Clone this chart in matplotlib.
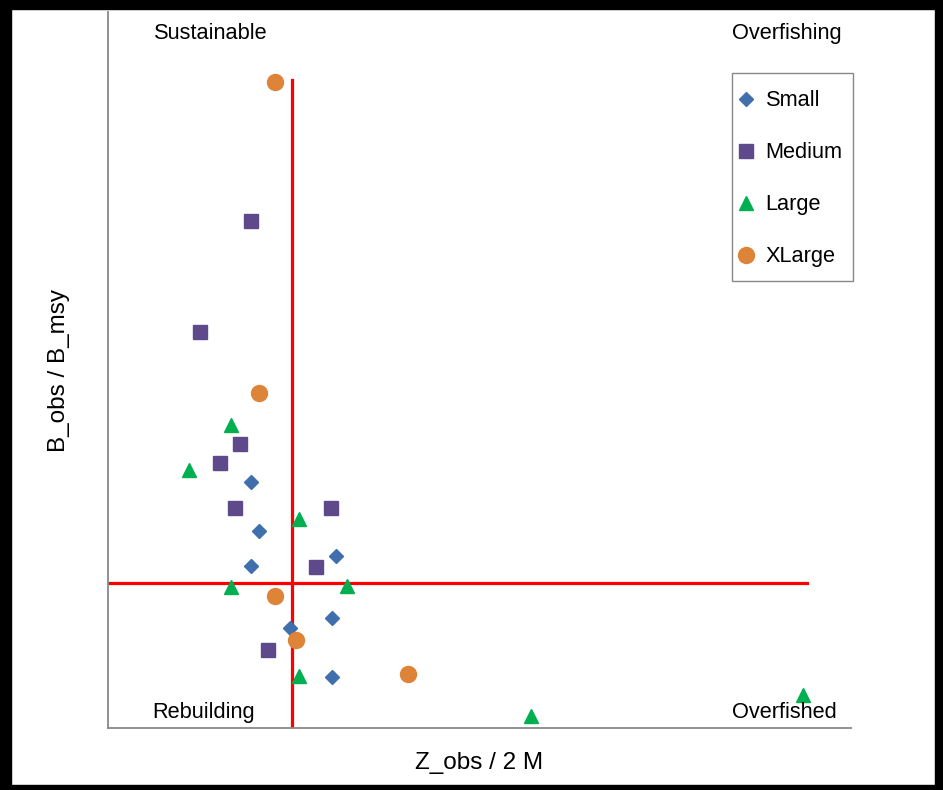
import matplotlib
matplotlib.use('Agg')
import matplotlib.pyplot as plt
from matplotlib.patches import Rectangle

plt.rcParams['font.family'] = ['Liberation Sans', 'DejaVu Sans']

# Z_obs / 2M and B_obs / B_msy for each size group
small_x = [0.78, 0.82, 0.78, 1.24, 1.22, 0.99, 1.22]
small_y = [1.70, 1.36, 1.12, 1.19, 0.76, 0.69, 0.35]

medium_x = [0.78, 0.50, 0.72, 0.61, 0.69, 1.21, 1.13, 0.87]
medium_y = [3.50, 2.73, 1.96, 1.83, 1.52, 1.52, 1.11, 0.54]

large_x = [0.67, 0.44, 1.04, 0.67, 1.30, 1.04, 2.30, 3.78]
large_y = [2.09, 1.78, 1.44, 0.97, 0.98, 0.36, 0.08, 0.23]

xlarge_x = [0.91, 0.82, 0.91, 1.02, 1.63]
xlarge_y = [4.46, 2.31, 0.91, 0.61, 0.37]

# reference lines
ref_x = 1.0
ref_y = 1.0
ref_x_top = 4.47
ref_y_right = 3.80

fig = plt.figure(figsize=(9.43, 7.90), dpi=100)
ax = fig.add_axes([108 / 943, 62 / 790, 743 / 943, 716 / 790])

ax.plot([ref_x, ref_x], [0, ref_x_top], color='red', lw=2.3, zorder=1)
ax.plot([0, ref_y_right], [ref_y, ref_y], color='red', lw=2.3, zorder=1)

ax.plot(small_x, small_y, 'D', color='#3F6FAD', ms=7, ls='none', label='Small', zorder=3)
ax.plot(medium_x, medium_y, 's', color='#5E4A8A', ms=10, ls='none', label='Medium', zorder=3)
ax.plot(large_x, large_y, '^', color='#00B050', ms=10.5, ls='none', label='Large', zorder=3)
ax.plot(xlarge_x, xlarge_y, 'o', color='#DD8439', ms=11.5, ls='none', label='XLarge', zorder=3)

ax.set_xlim(0, 4.04)
ax.set_ylim(0, 4.94)
ax.set_xticks([])
ax.set_yticks([])
for s in ['top', 'right']:
    ax.spines[s].set_visible(False)
for s in ['left', 'bottom']:
    ax.spines[s].set_color('#888888')
    ax.spines[s].set_linewidth(1.3)

ax.set_xlabel('Z_obs / 2 M', fontsize=17.5, labelpad=17)
ax.set_ylabel('B_obs / B_msy', fontsize=17.5, labelpad=27)

# quadrant labels
ax.text(0.56, 4.79, 'Sustainable', fontsize=15.7, ha='center', va='center')
ax.text(3.69, 4.79, 'Overfishing', fontsize=15.7, ha='center', va='center')
ax.text(0.52, 0.11, 'Rebuilding', fontsize=15.7, ha='center', va='center')
ax.text(3.68, 0.11, 'Overfished', fontsize=15.7, ha='center', va='center')

# legend without its own frame; the box is drawn separately (taller padding)
leg = ax.legend(loc='upper right', bbox_to_anchor=(1.0, 0.9022), fontsize=15.7,
                frameon=False, labelspacing=1.42, handlelength=0.55,
                handletextpad=0.64, borderpad=0.38, borderaxespad=0)
ax.add_patch(Rectangle((0.8398, 0.6243), 0.1629, 0.2905, transform=ax.transAxes,
                       fill=False, edgecolor='#888888', lw=1.0, zorder=4,
                       clip_on=False))

# black frame around the picture
for x0, y0, w, h in [(0, 0, 11 / 943, 1), (0, 0, 1, 5 / 790),
                     (935 / 943, 0, 8 / 943, 1), (0, 781 / 790, 1, 9 / 790)]:
    fig.patches.append(Rectangle((x0, y0), w, h, transform=fig.transFigure,
                                 color='black', zorder=10))

fig.savefig('out.png', dpi=100)
